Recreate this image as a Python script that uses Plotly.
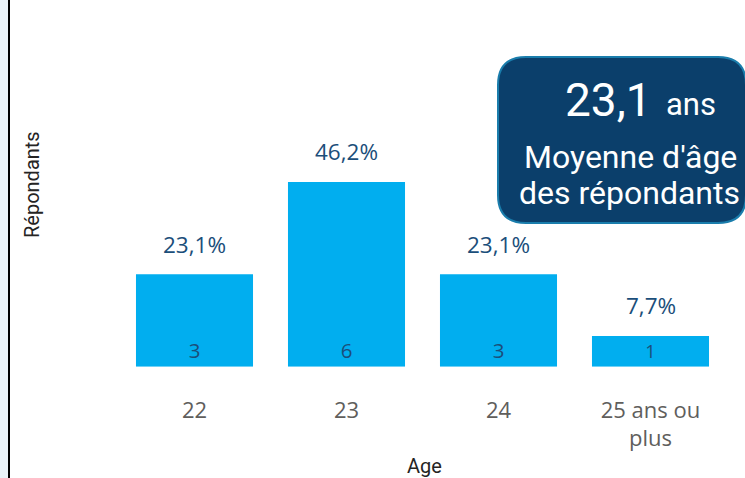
import plotly.graph_objects as go

categories = ["22", "23", "24", "25 ans ou<br>plus"]
counts = [3, 6, 3, 1]
pct_labels = ["23,1%", "46,2%", "23,1%", "7,7%"]
mean_age = "23,1"

W, H = 745, 478

def px(x):
    return x / W

def py(y):
    return 1 - y / H

fig = go.Figure()
fig.add_trace(go.Bar(
    x=categories, y=counts,
    marker=dict(color="#01aeef", line=dict(width=0)),
    text=[str(c) for c in counts],
    textposition="inside", insidetextanchor="start",
    textfont=dict(family="Open Sans", size=20.5, color="#1b4e7a"),
    textangle=0, cliponaxis=False, hoverinfo="skip",
))

# percentage labels above the bars (x given as category index)
for i, (v, t) in enumerate(zip(counts, pct_labels)):
    fig.add_annotation(x=i, y=v, text=t, showarrow=False, yshift=30,
                       font=dict(family="Open Sans", size=22.5, color="#1b4e7a"))

# box path (rounded rectangle)
x0, x1, y0, y1, r = 498, 746, 57, 223, 28
def P(x, y):
    return f"{px(x):.5f},{py(y):.5f}"
path = (f"M {P(x0+r,y0)} L {P(x1-r,y0)} Q {P(x1,y0)} {P(x1,y0+r)} "
        f"L {P(x1,y1-r)} Q {P(x1,y1)} {P(x1-r,y1)} L {P(x0+r,y1)} "
        f"Q {P(x0,y1)} {P(x0,y1-r)} L {P(x0,y0+r)} Q {P(x0,y0)} {P(x0+r,y0)} Z")

shapes = [
    dict(type="rect", xref="paper", yref="paper", x0=0, x1=px(8), y0=0, y1=1,
         fillcolor="#eaf3f8", line=dict(width=0), layer="below"),
    dict(type="rect", xref="paper", yref="paper", x0=px(8), x1=px(10), y0=0, y1=1,
         fillcolor="#000000", line=dict(width=0)),
    dict(type="path", xref="paper", yref="paper", path=path,
         fillcolor="#0b3f6b", line=dict(color="#1a7dac", width=2)),
]

annos = [
    dict(text=mean_age, x=px(608), y=py(100), font=dict(family="Roboto", size=46, color="white")),
    dict(text="ans", x=px(691), y=py(104), font=dict(family="Roboto", size=31, color="white")),
    dict(text="Moyenne d'âge", x=px(630), y=py(157), font=dict(family="Roboto", size=32, color="white")),
    dict(text="des répondants", x=px(629), y=py(193), font=dict(family="Roboto", size=32, color="white")),
    dict(text="Age", x=px(425), y=py(466), font=dict(family="Roboto", size=20, color="#252423")),
    dict(text="Répondants", x=px(32), y=py(185), textangle=-90,
         font=dict(family="Roboto", size=20, color="#252423")),
]
for a in annos:
    fig.add_annotation(xref="paper", yref="paper", showarrow=False,
                       xanchor="center", yanchor="middle", **a)

fig.update_layout(
    width=W, height=H, margin=dict(l=0, r=0, t=0, b=0, autoexpand=False),
    paper_bgcolor="white", plot_bgcolor="white", showlegend=False,
    shapes=shapes, bargap=0.23,
    xaxis=dict(type="category", range=[-0.5, 3.5], domain=[px(118.5), px(726.5)],
               showgrid=False, zeroline=False, automargin=False, tickangle=0,
               showline=False, ticks="", ticklabelstandoff=28,
               tickfont=dict(family="Open Sans", size=22, color="#605e5c")),
    yaxis=dict(domain=[py(366.7), py(120.3)], range=[0, 8], visible=False,
               automargin=False),
    uniformtext=dict(mode=False),
)
fig.write_html("out.html", config={"displayModeBar": False},
               post_script="document.body.style.margin='0px';")
